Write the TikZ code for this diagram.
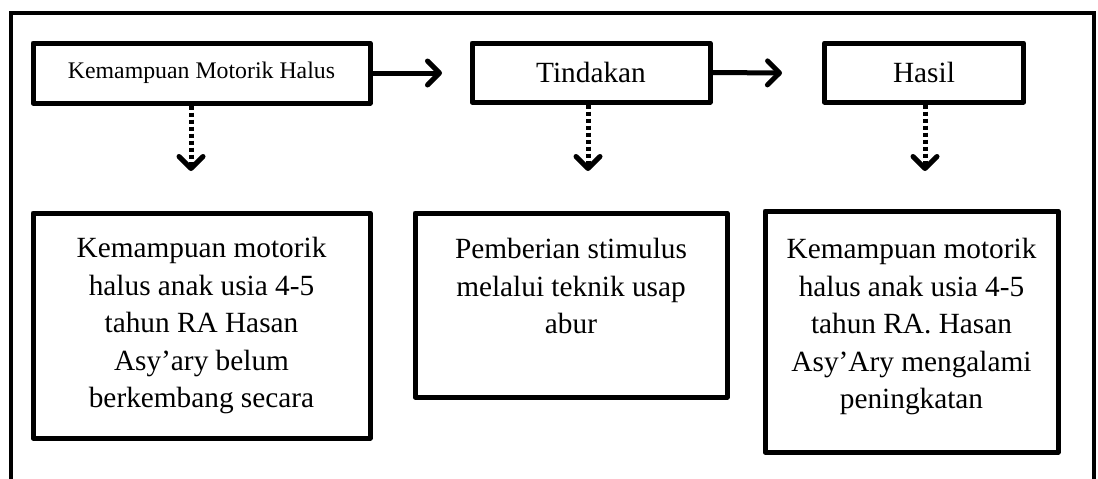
\documentclass[tikz,border=0pt]{standalone}
\usepackage{fontspec}
\setmainfont{Liberation Serif}
\usetikzlibrary{arrows.meta}

\begin{document}
\begin{tikzpicture}[x=1pt,y=-1pt,
    kotak/.style={draw, line width=5pt, line join=round, align=center, inner sep=0pt},
    besar/.style={font=\fontsize{29.3}{37.5}\selectfont},
    kecil/.style={font=\fontsize{23.8}{28}\selectfont},
    panah/.style={line width=5pt, -{Straight Barb[length=12pt,width=24pt,line join=round,line cap=round]}},
    panahtitik/.style={panah, dash pattern=on 4pt off 3pt}]
             \useasboundingbox (0,0) rectangle (1098,479);
             \draw[line width=4pt] (11,479) -- (11,13) -- (1094,13) -- (1094,479);

             \node[kotak, kecil, minimum width=337pt, minimum height=60pt] (kmh) at (201.5,73) {Kemampuan Motorik Halus};
             \node[kotak, besar, minimum width=238pt, minimum height=59pt] (tindakan) at (591,72.5) {Tindakan};
             \node[kotak, besar, minimum width=199pt, minimum height=59pt] (hasil) at (924,72.5) {Hasil};

             \coordinate (ujung1) at (442,73);
             \coordinate (ujung2) at (782,73);
             \draw[panah] (kmh.east) -- (ujung1);
             \draw[panah] (tindakan.east) -- (ujung2);

             \coordinate (turun1) at (191,171);
             \coordinate (turun2) at (588,171);
             \coordinate (turun3) at (925,171);
             \draw[panahtitik] (kmh.south -| turun1) -- (turun1);
             \draw[panahtitik] (tindakan.south -| turun2) -- (turun2);
             \draw[panahtitik] (hasil.south -| turun3) -- (turun3);

             \node[kotak, besar, minimum width=337pt, minimum height=225pt] (awal) at (201.5,325.5)
                  {Kemampuan motorik\\halus anak usia 4-5\\tahun RA Hasan\\Asy’ary belum\\berkembang secara};
             \node[kotak, besar, minimum width=312pt, minimum height=184pt] (stimulus) at (571,305)
                  {Pemberian stimulus\\melalui teknik usap\\abur\\\mbox{}};
             \node[kotak, besar, minimum width=293pt, minimum height=241pt] (akhir) at (911.5,331.5)
                  {Kemampuan motorik\\halus anak usia 4-5\\tahun RA. Hasan\\Asy’Ary mengalami\\peningkatan\\[-22pt]\mbox{}};
\end{tikzpicture}
\end{document}
